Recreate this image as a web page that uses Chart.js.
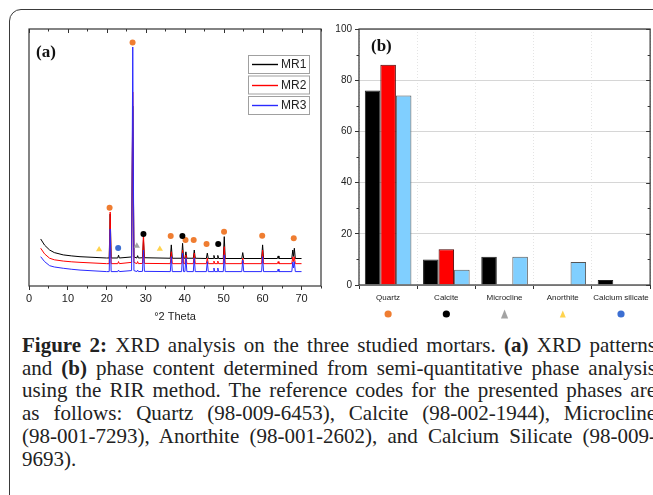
<!DOCTYPE html>
<html>
<head>
<meta charset="utf-8">
<script src="https://cdn.jsdelivr.net/npm/chart.js@4.4.0/dist/chart.umd.min.js"></script>
<style>
  html, body { margin: 0; padding: 0; background: #fff; width: 653px; height: 495px; overflow: hidden; position: relative; }
  #frame { position: absolute; left: 9px; top: 9px; width: 720px; height: 600px; border: 1.5px solid #3a3a3a; border-radius: 12px; }
  #wrapA { position: absolute; left: 0; top: 0; width: 330px; height: 330px; }
  #wrapB { position: absolute; left: 330px; top: 0; width: 323px; height: 330px; }
  #caption { position: absolute; left: 22px; top: 334px; width: 634px; font-family: "Liberation Serif", serif; font-size: 21px; line-height: 22.7px; color: #222; }
  #caption div { text-align: justify; text-align-last: justify; }
  #caption div.last { text-align-last: left; }
</style>
</head>
<body>
<div id="frame"></div>
<div id="wrapA"><canvas id="chartA"></canvas></div>
<div id="wrapB"><canvas id="chartB"></canvas></div>
<div id="caption">
  <div><b>Figure 2:</b> XRD analysis on the three studied mortars. <b>(a)</b> XRD patterns</div>
  <div>and <b>(b)</b> phase content determined from semi-quantitative phase analysis</div>
  <div>using the RIR method. The reference codes for the presented phases are</div>
  <div>as follows: Quartz (98-009-6453), Calcite (98-002-1944), Microcline</div>
  <div>(98-001-7293), Anorthite (98-001-2602), and Calcium Silicate (98-009-</div>
  <div class="last">9693).</div>
</div>
<script>
// (a) XRD patterns, intensity in arbitrary units (offset per mortar)
const twoTheta = [3, 4, 5.3, 6.5, 8.8, 11, 13.1, 19.9,
  20.6, 20.85, 21.1, 22.8, 23.0, 23.2, 26.35, 26.65, 26.95, 27.7, 27.9, 28.1,
  29.15, 29.4, 29.65, 36.3, 36.55, 36.8, 39.2, 39.45, 39.7, 40.05, 40.3, 40.55,
  42.2, 42.45, 42.7, 45.55, 45.8, 46.05, 47.3, 47.5, 47.7, 48.3, 48.5, 48.7,
  49.9, 50.15, 50.4, 54.65, 54.9, 55.15, 59.75, 60.0, 60.25, 63.8, 64.0, 64.2,
  67.5, 67.75, 67.95, 68.15, 68.4, 70];
const mr1 = [18.3, 15.9, 14.0, 13.0, 12.1, 11.7, 11.4, 10.9,
  10.9, 28.0, 10.9, 10.9, 12.0, 10.9, 11.3, 70.0, 11.3, 10.9, 11.8, 10.9,
  11.0, 17.9, 11.0, 10.8, 16.0, 10.8, 10.8, 16.6, 10.8, 10.8, 13.3, 10.8,
  10.8, 14.0, 10.8, 10.7, 12.8, 10.7, 10.7, 11.9, 10.7, 10.7, 11.9, 10.7,
  10.7, 19.2, 10.7, 10.7, 13.0, 10.7, 10.7, 16.0, 10.7, 10.7, 11.7, 10.7,
  10.7, 14.0, 11.5, 14.7, 10.7, 10.7];
const mr2 = [14.7, 12.5, 10.8, 10.2, 9.7, 9.4, 9.2, 8.7,
  8.7, 28.8, 8.7, 8.7, 9.5, 8.7, 9.2, 75.5, 9.2, 8.7, 9.5, 8.7,
  8.8, 21.0, 8.8, 8.7, 13.3, 8.7, 8.7, 14.0, 8.7, 8.7, 12.1, 8.7,
  8.7, 12.8, 8.7, 8.7, 10.9, 8.7, 8.7, 9.7, 8.7, 8.7, 9.7, 8.7,
  8.7, 15.3, 8.7, 8.7, 10.9, 8.7, 8.7, 14.0, 8.7, 8.7, 9.5, 8.7,
  8.7, 11.3, 9.5, 11.4, 8.7, 8.7];
const mr3 = [11.4, 9.5, 7.9, 7.4, 6.9, 6.5, 6.2, 5.6,
  5.6, 22.2, 5.6, 5.6, 6.2, 5.6, 6.0, 93.0, 6.0, 5.6, 6.2, 5.6,
  5.7, 14.0, 5.7, 5.6, 11.4, 5.6, 5.6, 12.8, 5.6, 5.6, 10.9, 5.6,
  5.6, 10.9, 5.6, 5.6, 9.5, 5.6, 5.6, 7.0, 5.6, 5.6, 7.0, 5.6,
  5.6, 12.1, 5.6, 5.6, 10.1, 5.6, 5.6, 11.4, 5.6, 5.6, 6.6, 5.6,
  5.6, 9.3, 7.0, 9.5, 5.6, 5.6];

// phase markers above the peaks
const markerTheta = [20.7, 26.6, 36.4, 40.2, 42.3, 45.6, 50.1, 59.9, 68.0, 29.4, 39.4, 48.6, 27.7, 18.0, 33.6, 22.9];
const markerHeight = [30.4, 94.7, 19.5, 17.9, 17.9, 16.3, 21.1, 19.6, 18.6, 20.2, 19.5, 16.3, 15.6, 14.2, 14.4, 14.8];
const markerPhase = ['Quartz', 'Quartz', 'Quartz', 'Quartz', 'Quartz', 'Quartz', 'Quartz', 'Quartz', 'Quartz',
  'Calcite', 'Calcite', 'Calcite', 'Microcline', 'Anorthite', 'Anorthite', 'Calcium silicate'];

// (b) phase content, %
const phases = ['Quartz', 'Calcite', 'Microcline', 'Anorthite', 'Calcium silicate'];
const mr1Content = [76, 10, 11, 0, 2];
const mr2Content = [86, 14, 0, 0, 0];
const mr3Content = [74, 6, 11, 9, 0];

const phaseStyle = {
  'Quartz': { color: '#ef7d31', shape: 'circle' },
  'Calcite': { color: '#000000', shape: 'circle' },
  'Microcline': { color: '#a3a3a3', shape: 'triangle' },
  'Anorthite': { color: '#ffd34d', shape: 'triangle' },
  'Calcium silicate': { color: '#3c6fd2', shape: 'circle' }
};

const mortarColors = ['#000000', '#ff0000', '#2a2aff'];
const sans = 'Liberation Sans, Arial, sans-serif';

function mark(ctx, shape, color, x, y, r, h) {
  ctx.fillStyle = color;
  ctx.beginPath();
  if (shape === 'circle') {
    ctx.arc(x, y, r, 0, Math.PI * 2);
  } else {
    ctx.moveTo(x, y - h / 2);
    ctx.lineTo(x + r, y + h / 2);
    ctx.lineTo(x - r, y + h / 2);
    ctx.closePath();
  }
  ctx.fill();
}

const frameA = {
  id: 'frameA',
  afterDraw(chart) {
    const { ctx, chartArea: a, scales: { x } } = chart;
    ctx.save();
    ctx.strokeStyle = '#333';
    ctx.lineWidth = 1.2;
    ctx.strokeRect(a.left, a.top, a.width, a.height);
    ctx.lineWidth = 1;
    for (let v = 0; v <= 75; v += 5) {
      const px = Math.round(x.getPixelForValue(v)) + 0.5;
      const len = v % 10 === 0 ? 4 : 2.5;
      ctx.beginPath();
      ctx.moveTo(px, a.top);
      ctx.lineTo(px, a.top + len);
      if (v % 10 !== 0) {
        ctx.moveTo(px, a.bottom);
        ctx.lineTo(px, a.bottom + 2.5);
      }
      ctx.stroke();
    }
    // legend: one box per mortar
    ['MR1', 'MR2', 'MR3'].forEach((name, i) => {
      const bx = a.right - 73, by = a.top + 26 + i * 20.5;
      ctx.strokeStyle = '#a0a0a0';
      ctx.lineWidth = 1;
      ctx.strokeRect(bx + 0.5, by + 0.5, 61, 18);
      ctx.strokeStyle = mortarColors[i];
      ctx.lineWidth = 1.4;
      ctx.beginPath();
      ctx.moveTo(bx + 4, Math.round(by + 9) + 0.5);
      ctx.lineTo(bx + 30, Math.round(by + 9) + 0.5);
      ctx.stroke();
      ctx.fillStyle = '#222';
      ctx.font = '12px ' + sans;
      ctx.textBaseline = 'middle';
      ctx.fillText(name, bx + 33, by + 10);
    });
    ctx.fillStyle = '#111';
    ctx.font = 'bold 17px "Liberation Serif", serif';
    ctx.textBaseline = 'middle';
    ctx.fillText('(a)', a.left + 7, a.top + 24);
    ctx.restore();
  }
};

const frameB = {
  id: 'frameB',
  afterDraw(chart) {
    const { ctx, chartArea: a, scales: { x, y } } = chart;
    ctx.save();
    ctx.strokeStyle = '#333';
    ctx.lineWidth = 1.2;
    ctx.strokeRect(a.left, a.top, a.width, a.height);
    ctx.lineWidth = 1;
    for (let v = 0; v <= 100; v += 10) {
      const py = Math.round(y.getPixelForValue(v)) + 0.5;
      ctx.beginPath();
      if (v % 20 !== 0) {
        ctx.moveTo(a.left, py);
        ctx.lineTo(a.left - 2.5, py);
      }
      ctx.moveTo(a.right, py);
      ctx.lineTo(a.right - (v % 20 === 0 ? 4 : 2.5), py);
      ctx.stroke();
    }
    phases.forEach((p, i) => {
      const s = phaseStyle[p];
      const px = x.getPixelForValue(i);
      const big = p === 'Microcline';
      mark(ctx, s.shape, s.color, px, a.bottom + 29, s.shape === 'circle' ? 3.6 : (big ? 3.6 : 3), big ? 9 : 7);
    });
    ctx.fillStyle = '#111';
    ctx.font = 'bold 17px "Liberation Serif", serif';
    ctx.textBaseline = 'middle';
    ctx.fillText('(b)', a.left + 12, a.top + 18);
    ctx.restore();
  }
};

new Chart(document.getElementById('chartA'), {
  type: 'line',
  data: {
    datasets: [
      { label: 'MR1', data: twoTheta.map((t, i) => ({ x: t, y: mr1[i] })), borderColor: mortarColors[0], borderWidth: 1, pointRadius: 0, order: 3 },
      { label: 'MR2', data: twoTheta.map((t, i) => ({ x: t, y: mr2[i] })), borderColor: mortarColors[1], borderWidth: 1, pointRadius: 0, order: 2 },
      { label: 'MR3', data: twoTheta.map((t, i) => ({ x: t, y: mr3[i] })), borderColor: mortarColors[2], borderWidth: 1, pointRadius: 0, order: 1 },
      {
        type: 'scatter', label: 'phases', order: 0, showLine: false,
        data: markerTheta.map((t, i) => ({ x: t, y: markerHeight[i] })),
        pointStyle: markerPhase.map(p => phaseStyle[p].shape),
        pointBackgroundColor: markerPhase.map(p => phaseStyle[p].color),
        pointBorderColor: markerPhase.map(p => phaseStyle[p].color),
        pointBorderWidth: 0,
        pointRadius: markerPhase.map(p => phaseStyle[p].shape === 'circle' ? 3 : 3.6)
      }
    ]
  },
  options: {
    animation: false,
    responsive: true,
    maintainAspectRatio: false,
    layout: { padding: { left: 29, right: 9, top: 29, bottom: 0 } },
    plugins: { legend: { display: false }, tooltip: { enabled: false } },
    scales: {
      x: {
        type: 'linear', min: 0, max: 75,
        afterFit(s) { s.height = 44; },
        ticks: { stepSize: 10, includeBounds: false, maxRotation: 0, padding: 2, color: '#222', font: { family: sans, size: 11 } },
        grid: { drawOnChartArea: false, tickLength: 4, tickColor: '#333' },
        border: { display: false },
        title: { display: true, text: '°2 Theta', color: '#222', font: { family: sans, size: 11 }, padding: { top: 0, bottom: 6 } }
      },
      y: { display: false, min: 0, max: 100 }
    }
  },
  plugins: [frameA]
});

new Chart(document.getElementById('chartB'), {
  type: 'bar',
  data: {
    labels: phases,
    datasets: [
      { label: 'MR1', data: mr1Content, backgroundColor: '#000000', borderColor: '#222', borderWidth: 1, categoryPercentage: 0.8, barPercentage: 1 },
      { label: 'MR2', data: mr2Content, backgroundColor: '#ff0000', borderColor: '#4a0000', borderWidth: 1, categoryPercentage: 0.8, barPercentage: 1 },
      { label: 'MR3', data: mr3Content, backgroundColor: '#80cfff', borderColor: '#555', borderWidth: 1, categoryPercentage: 0.8, barPercentage: 1 }
    ]
  },
  options: {
    animation: false,
    responsive: true,
    maintainAspectRatio: false,
    layout: { padding: { left: 0, right: 2, top: 29, bottom: 0 } },
    plugins: { legend: { display: false }, tooltip: { enabled: false } },
    scales: {
      x: {
        afterFit(s) { s.height = 45; },
        ticks: { maxRotation: 0, autoSkip: false, padding: 4, color: '#222', font: { family: sans, size: 8 } },
        grid: { offset: true, color: '#e4e4e4', tickLength: 4, tickColor: '#333' },
        border: { display: false, dash: [1, 2] }
      },
      y: {
        min: 0, max: 100,
        afterFit(s) { s.width = 29; },
        ticks: { stepSize: 20, padding: 3, color: '#222', font: { family: sans, size: 10 } },
        grid: { color: '#d6d6d6', tickLength: 4, tickColor: '#333' },
        border: { display: false }
      }
    }
  },
  plugins: [frameB]
});
</script>
</body>
</html>
